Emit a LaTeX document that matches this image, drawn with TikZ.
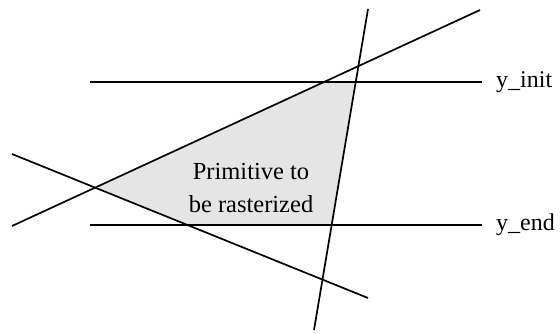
\documentclass[tikz,border=0pt]{standalone}
\usepackage{fontspec}
\setmainfont{Liberation Serif}
\begin{document}
\begin{tikzpicture}[x=1pt,y=-1pt,
  edge/.style={line width=1.7pt,black},
  lbl/.style={font=\fontsize{24}{30}\selectfont,inner sep=0pt,anchor=west},
  ctext/.style={font=\fontsize{24.5}{33}\selectfont,inner sep=0pt,align=center}]
\useasboundingbox (0,0) rectangle (560,333);
% line end points
\coordinate (a1) at (12,226);  \coordinate (a2) at (480,10);
\coordinate (b1) at (12,154);  \coordinate (b2) at (368,298);
\coordinate (c1) at (368,9);   \coordinate (c2) at (314,330);
\coordinate (i1) at (90,82);   \coordinate (i2) at (482,82);
\coordinate (e1) at (90,225);  \coordinate (e2) at (482,225);
% polygon
\fill[gray!20] (intersection of a1--a2 and b1--b2)
  -- (intersection of a1--a2 and i1--i2)
  -- (intersection of c1--c2 and i1--i2)
  -- (intersection of c1--c2 and e1--e2)
  -- (intersection of b1--b2 and e1--e2) -- cycle;
\draw[edge] (i1) -- (i2);
\draw[edge] (e1) -- (e2);
\draw[edge] (a1) -- (a2);
\draw[edge] (b1) -- (b2);
\draw[edge] (c1) -- (c2);
\node[lbl] (yi) at (496,82) {y\_init};
\node[lbl] (ye) at (496,225) {y\_end};
\node[ctext] (prim) at (251,188) {Primitive to\\be rasterized};
\end{tikzpicture}
\end{document}
